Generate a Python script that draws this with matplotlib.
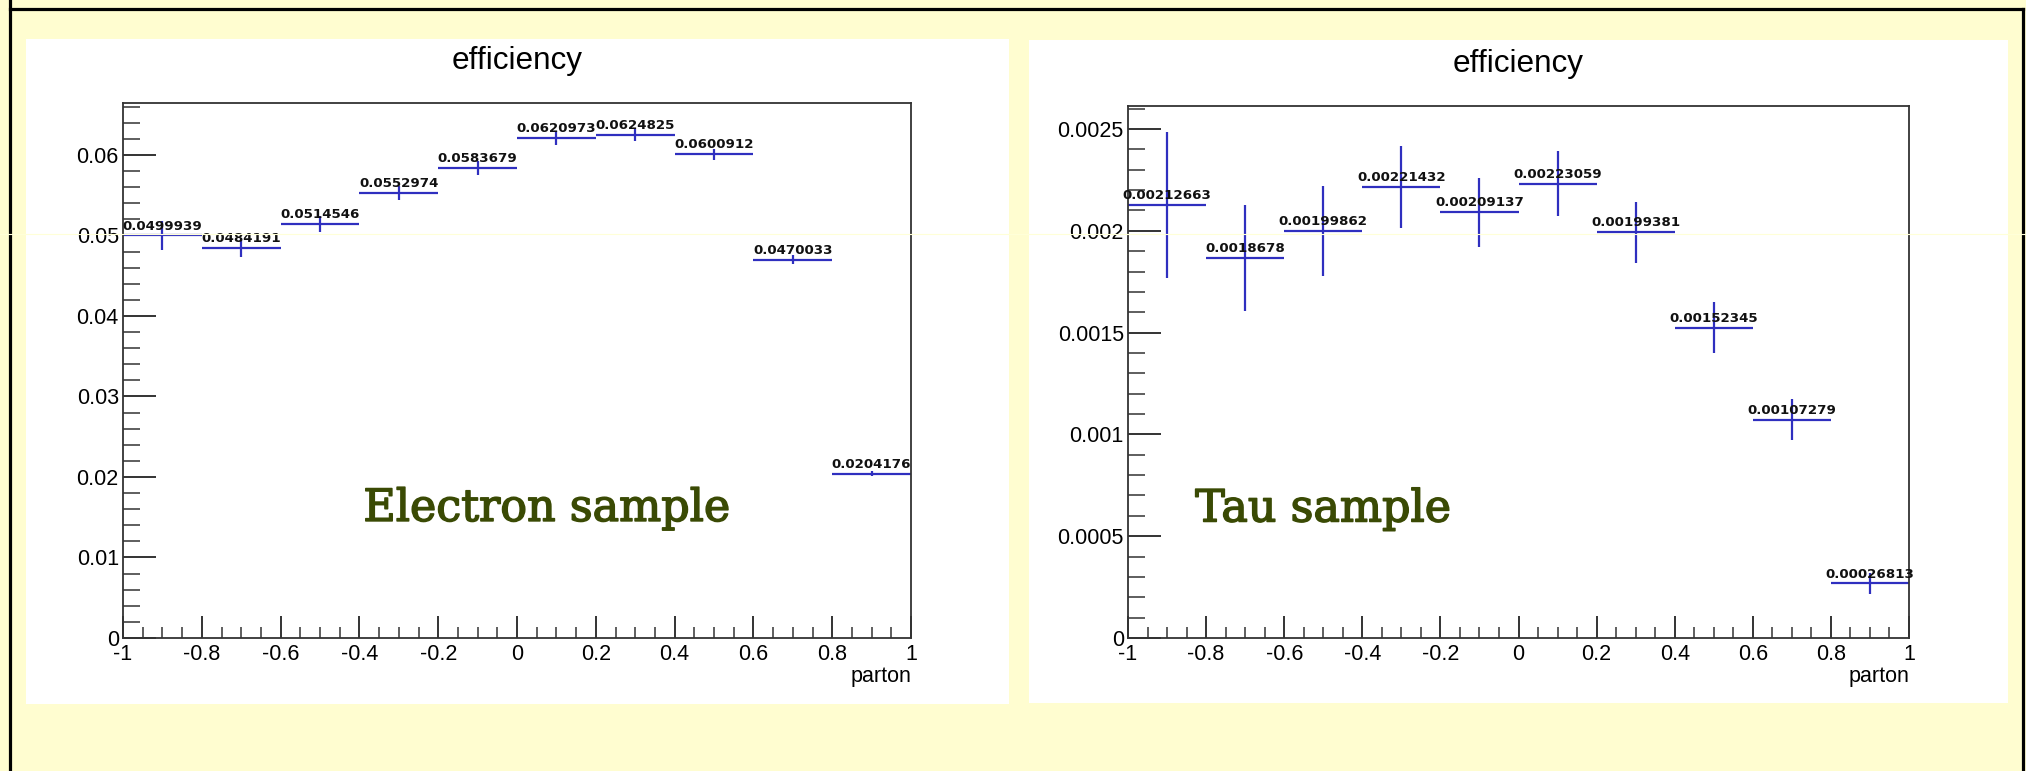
#
# efficiency vs parton for the electron and tau samples, ROOT-style panels
#
import numpy as np
import matplotlib
matplotlib.use('Agg')
import matplotlib.pyplot as plt
import matplotlib.patheffects as pe
from matplotlib.patches import Rectangle
from matplotlib.lines import Line2D
from matplotlib.ticker import MultipleLocator, FuncFormatter

plt.rcParams['font.family'] = ['Liberation Sans', 'DejaVu Sans']

#############################################################
bin_edges = [-1.0, -0.8, -0.6, -0.4, -0.2, 0.0, 0.2, 0.4, 0.6, 0.8, 1.0]

ele_eff = [0.0499939, 0.0484191, 0.0514546, 0.0552974, 0.0583679,
           0.0620973, 0.0624825, 0.0600912, 0.0470033, 0.0204176]
ele_err = [0.00175, 0.0011, 0.0010, 0.0009, 0.0009,
           0.0009, 0.00075, 0.0007, 0.00055, 0.0003]

tau_eff = [0.00212663, 0.0018678, 0.00199862, 0.00221432, 0.00209137,
           0.00223059, 0.00199381, 0.00152345, 0.00107279, 0.00026813]
tau_err = [0.00036, 0.00026, 0.00022, 0.0002, 0.00017,
           0.00016, 0.00015, 0.000126, 0.0001, 0.00005]

BG = '#fffdd0'
BLUE = '#2f2fbf'
OLIVE = '#3a4a04'

#############################################################
def DrawPanel( ax, eff, err, ymax, ymajor, yminor, sample, sx ):
    edges = np.array( bin_edges )
    centers = 0.5*(edges[:-1] + edges[1:])
    halfw = 0.5*np.diff( edges )
    ax.errorbar( centers, eff, xerr=halfw, yerr=err, fmt='none',
            ecolor=BLUE, elinewidth=1.6, capsize=0, zorder=2 )
    for c,v in zip( centers, eff ):
        ax.annotate( '%g' % v, (c, v), xytext=(0, 2), textcoords='offset points',
                ha='center', va='bottom', fontsize=9.6, fontweight='bold',
                family='DejaVu Sans', color='#111111', zorder=3 )
    ax.set_xlim( -1, 1 )
    ax.set_ylim( 0, ymax )
    ax.xaxis.set_major_locator( MultipleLocator(0.2) )
    ax.xaxis.set_minor_locator( MultipleLocator(0.05) )
    ax.yaxis.set_major_locator( MultipleLocator(ymajor) )
    ax.yaxis.set_minor_locator( MultipleLocator(yminor) )
    fmt = FuncFormatter( lambda v, p: '%g' % round(v, 6) )
    ax.xaxis.set_major_formatter( fmt )
    ax.yaxis.set_major_formatter( fmt )
    ax.tick_params( axis='both', which='both', direction='in', colors='#333333',
            labelcolor='black', labelsize=15.5, top=False, right=False )
    ax.tick_params( axis='y', which='major', length=24, width=1.4, pad=3 )
    ax.tick_params( axis='y', which='minor', length=12, width=1.1 )
    ax.tick_params( axis='x', which='major', length=16, width=1.4, pad=4 )
    ax.tick_params( axis='x', which='minor', length=8, width=1.1 )
    for s in ax.spines.values():
        s.set_color( '#333333' )
        s.set_linewidth( 1.3 )
    ax.set_xlabel( 'parton', fontsize=15.5, loc='right', labelpad=1 )
    ax.set_title( 'efficiency', fontsize=22.7, y=1.064, pad=0 )
    ax.text( sx, 0.219, sample, transform=ax.transAxes, family='DejaVu Serif',
            fontsize=32, color=OLIVE, ha='left', va='baseline',
            path_effects=[pe.withStroke(linewidth=1.1, foreground=OLIVE)] )

######################################################
W,H = 2026, 771
fig = plt.figure( figsize=(W/100, H/100), dpi=100, facecolor=BG )

def px_rect( x0, y0, x1, y1 ):
    return [x0/W, 1-y1/H, (x1-x0)/W, (y1-y0)/H]

# white pads behind each histogram
for x0,y0,x1,y1 in ((26,39,1009,704), (1029,40,2008,703)):
    fig.patches.append( Rectangle( (x0/W, 1-y1/H), (x1-x0)/W, (y1-y0)/H,
            transform=fig.transFigure, facecolor='white', edgecolor='none', zorder=-1 ) )

# slide frame: left, top and right edges
for xs,ys in (((10,10),(0,H)), ((10,2023),(9,9)), ((2023,2023),(9,H))):
    fig.lines.append( Line2D( [x/W for x in xs], [1-y/H for y in ys],
            transform=fig.transFigure, color='black', lw=2.3, zorder=5 ) )

ax1 = fig.add_axes( px_rect(123, 103.4, 911, 638) )
ax2 = fig.add_axes( px_rect(1128, 106, 1909, 638) )
for ax in (ax1, ax2):
    ax.set_facecolor( 'white' )
    ax.set_zorder( 1 )

DrawPanel( ax1, ele_eff, ele_err, 0.0664, 0.01, 0.002, 'Electron sample', 0.305 )
DrawPanel( ax2, tau_eff, tau_err, 0.002613, 0.0005, 0.0001, 'Tau sample', 0.086 )

# faint horizontal streak across the slide
fig.lines.append( Line2D( [0, 1], [1-234/H, 1-234/H], transform=fig.transFigure,
        color='#ffffd8', lw=0.8, zorder=10 ) )

plt.savefig( 'out.png', dpi=100, facecolor=BG )
